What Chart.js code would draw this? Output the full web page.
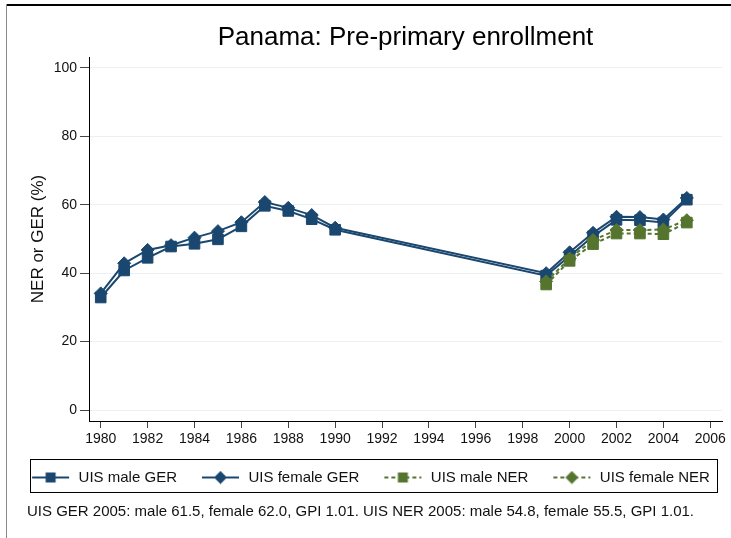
<!DOCTYPE html>
<html>
<head>
<meta charset="utf-8">
<script src="https://cdn.jsdelivr.net/npm/chart.js@4/dist/chart.umd.min.js"></script>
<style>
html,body{margin:0;padding:0;background:#fff;}
#wrap{width:731px;height:538px;position:relative;}
</style>
</head>
<body>
<div id="wrap"><canvas id="c" width="731" height="538"></canvas></div>
<script>
// ---- data ----
const titleText = 'Panama: Pre-primary enrollment';
const yAxisTitle = 'NER or GER (%)';
const footnote = 'UIS GER 2005: male 61.5, female 62.0, GPI 1.01. UIS NER 2005: male 54.8, female 55.5, GPI 1.01.';
const seriesLabels = ['UIS male GER', 'UIS female GER', 'UIS male NER', 'UIS female NER'];
const gerYears = [1980, 1981, 1982, 1983, 1984, 1985, 1986, 1987, 1988, 1989, 1990, 1999, 2000, 2001, 2002, 2003, 2004, 2005];
const nerYears = [1999, 2000, 2001, 2002, 2003, 2004, 2005];
const maleGER   = [32.9, 40.8, 44.5, 47.8, 48.6, 49.9, 53.7, 59.7, 58.2, 55.8, 52.7, 39.3, 45.0, 50.8, 55.6, 55.5, 54.8, 61.5];
const femaleGER = [34.1, 42.9, 46.8, 48.2, 50.4, 52.3, 54.9, 60.8, 59.1, 57.0, 53.3, 40.0, 46.1, 51.8, 56.5, 56.4, 55.7, 62.0];
const maleNER   = [36.7, 43.6, 48.5, 51.6, 51.6, 51.4, 54.8];
const femaleNER = [37.6, 44.3, 49.7, 52.6, 52.6, 52.8, 55.5];
const xTicks = [1980, 1982, 1984, 1986, 1988, 1990, 1992, 1994, 1996, 1998, 2000, 2002, 2004, 2006];
const yTicks = [0, 20, 40, 60, 80, 100];

// ---- styles ----
const NAVY = '#1a476f';
const GREEN = '#55752f';
const FONT = "'Liberation Sans', Arial, Helvetica, sans-serif";
Chart.defaults.font.family = FONT;
Chart.defaults.color = '#111';

function pts(xs, ys) { return xs.map((x, i) => ({ x: x, y: ys[i] })); }

function legendImg(color, shape, dashed) {
  const c = document.createElement('canvas');
  c.width = 53; c.height = 14;
  const g = c.getContext('2d');
  g.strokeStyle = color; g.lineWidth = 2;
  if (dashed) g.setLineDash([4, 3]);
  g.beginPath(); g.moveTo(14, 7); g.lineTo(51, 7); g.stroke();
  g.setLineDash([]);
  g.fillStyle = color;
  const cx = 32.5, cy = 7;
  g.beginPath();
  if (shape === 'rect') {
    g.rect(cx - 5, cy - 5, 10, 10);
  } else {
    g.moveTo(cx, cy - 6.5); g.lineTo(cx + 6.5, cy); g.lineTo(cx, cy + 6.5); g.lineTo(cx - 6.5, cy); g.closePath();
  }
  g.fill();
  return c;
}

const legendImgs = [
  legendImg(NAVY, 'rect', false),
  legendImg(NAVY, 'diamond', false),
  legendImg(GREEN, 'rect', true),
  legendImg(GREEN, 'diamond', true)
];

const framePlugin = {
  id: 'frame',
  afterLayout(chart) {
    const ca = chart.chartArea;
    chart.titleBlock.left = ca.left;
    chart.titleBlock.right = ca.right;
    const sub = chart.boxes.find(b => b !== chart.titleBlock && b.options && b.options.text === footnote);
    if (sub) { sub.left = sub.left + 21; }
  },
  beforeDraw(chart) {
    const ctx = chart.ctx;
    ctx.save();
    ctx.fillStyle = '#fff';
    ctx.fillRect(0, 0, chart.width, chart.height);
    ctx.fillStyle = '#000';
    ctx.fillRect(6, 4, chart.width - 6, 2);
    ctx.fillStyle = '#8a8a8a';
    ctx.fillRect(6, 4, 1, chart.height - 4);
    ctx.restore();
  },
  afterDraw(chart) {
    const lg = chart.legend;
    const ctx = chart.ctx;
    ctx.save();
    ctx.strokeStyle = '#000';
    ctx.lineWidth = 1;
    ctx.strokeRect(lg.left + 24.5, Math.round(lg.top) + 0.5, lg.width - 29, Math.round(lg.bottom - lg.top) - 3);
    ctx.restore();
  }
};

new Chart(document.getElementById('c'), {
  type: 'line',
  data: {
    datasets: [
      { label: seriesLabels[0], data: pts(gerYears, maleGER), borderColor: NAVY, backgroundColor: NAVY,
        pointStyle: 'rect', pointRadius: 7.5, pointBorderWidth: 1, borderWidth: 2, order: 4 },
      { label: seriesLabels[1], data: pts(gerYears, femaleGER), borderColor: NAVY, backgroundColor: NAVY,
        pointStyle: 'rectRot', pointRadius: 6.5, pointBorderWidth: 1, borderWidth: 2, order: 3 },
      { label: seriesLabels[2], data: pts(nerYears, maleNER), borderColor: GREEN, backgroundColor: GREEN,
        pointStyle: 'rect', pointRadius: 7.5, pointBorderWidth: 1, borderWidth: 2, borderDash: [4, 3], order: 2 },
      { label: seriesLabels[3], data: pts(nerYears, femaleNER), borderColor: GREEN, backgroundColor: GREEN,
        pointStyle: 'rectRot', pointRadius: 6.5, pointBorderWidth: 1, borderWidth: 2, borderDash: [4, 3], order: 1 }
    ]
  },
  options: {
    responsive: false,
    devicePixelRatio: 1,
    animation: false,
    events: [],
    layout: { padding: { left: 6, right: 9, top: 0, bottom: 0 } },
    elements: { line: { tension: 0, fill: false } },
    scales: {
      x: {
        type: 'linear',
        min: 1979.5, max: 2006.5,
        afterBuildTicks: s => { s.ticks = xTicks.map(v => ({ value: v })); },
        afterFit: s => { s.height = 38; },
        ticks: { callback: v => String(v), font: { size: 14 }, color: '#111', padding: 3, maxRotation: 0, autoSkip: false },
        grid: { drawOnChartArea: false, drawTicks: true, tickLength: 7, tickColor: '#444' },
        border: { color: '#000', width: 1 }
      },
      y: {
        type: 'linear',
        min: -3.2, max: 103.2,
        afterBuildTicks: s => { s.ticks = yTicks.map(v => ({ value: v })); },
        afterFit: s => { s.width = 83; },
        ticks: { font: { size: 14 }, color: '#111', padding: 3 },
        grid: { color: '#eaf1f4', lineWidth: 1, tickLength: 9, tickColor: '#444' },
        border: { color: '#000', width: 1 },
        title: { display: true, text: yAxisTitle, font: { size: 17 }, color: '#111', padding: { top: 22, bottom: 0 } }
      }
    },
    plugins: {
      tooltip: { enabled: false },
      title: {
        display: true, text: titleText, color: '#000',
        font: { size: 26, weight: 'normal' },
        padding: { top: 22.4, bottom: 3.4 }
      },
      subtitle: {
        display: true, text: footnote, position: 'bottom', align: 'start', color: '#111',
        font: { size: 15, weight: 'normal' },
        padding: { top: 8, bottom: 17 }
      },
      legend: {
        display: true, position: 'bottom',
        labels: {
          usePointStyle: true,
          pointStyleWidth: 53,
          padding: 11,
          color: '#111',
          font: { size: 15 },
          generateLabels: chart => chart.data.datasets.map((ds, i) => ({
            text: ds.label, pointStyle: legendImgs[i], datasetIndex: i,
            fillStyle: ds.backgroundColor, strokeStyle: ds.borderColor, lineWidth: 0, hidden: false, fontColor: '#111'
          }))
        }
      }
    }
  },
  plugins: [framePlugin]
});
</script>
</body>
</html>
